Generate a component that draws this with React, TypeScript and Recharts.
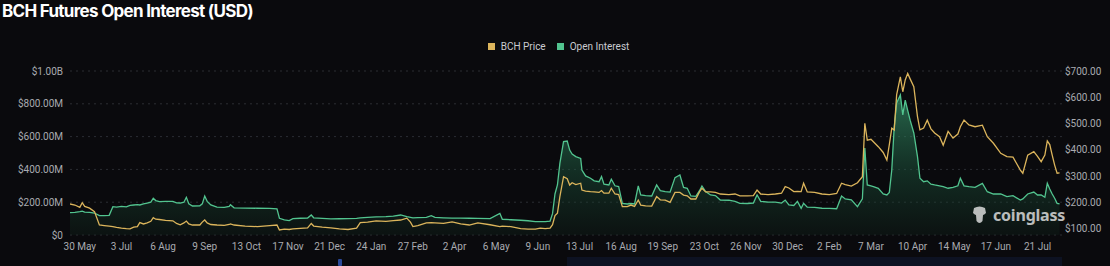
import React from 'react';
import { ComposedChart, Area, Line, XAxis, YAxis, CartesianGrid, Legend } from 'recharts';

// day index, 0 = 30 May
const days = [
  -8, -4, 0, 2, 4, 8, 12, 16, 20, 24, 27, 30, 34, 38, 41, 44, 47, 49, 52, 55, 58, 60, 62, 65, 70, 76, 79, 82, 85, 87,
  89, 92, 98, 100, 102, 104, 107, 112, 118, 122, 123, 126, 135, 145, 155, 161, 163, 167, 171, 174, 180, 186, 189, 191,
  198, 205, 212, 219, 226, 229, 235, 242, 250, 256, 262, 267, 270, 272, 276, 283, 287, 290, 297, 304, 311, 318, 325,
  335, 343, 345, 352, 360, 366, 372, 376, 380, 384, 386, 388, 390, 392, 395, 398, 400, 402, 405, 409, 410, 413, 417,
  420, 424, 426, 428, 432, 434, 437, 440, 443, 447, 450, 453, 456, 458, 462, 467, 471, 474, 478, 482, 486, 490, 493,
  496, 499, 503, 506, 508, 511, 515, 519, 523, 530, 535, 539, 545, 550, 553, 556, 562, 568, 573, 576, 579, 583, 586,
  589, 591, 594, 600, 606, 612, 618, 622, 625, 630, 635, 639, 641, 643, 646, 648, 652, 656, 659, 661, 663, 665, 667,
  670, 672, 674, 676, 678, 681, 684, 686, 689, 692, 695, 698, 702, 705, 709, 713, 717, 719, 722, 726, 731, 737, 741,
  746, 752, 757, 762, 768, 770, 774, 779, 782, 785, 788, 790, 792, 794, 796, 798, 800,
];

// open interest, millions USD
const openInterest = [
  136, 138, 142, 145, 140, 138, 134, 118, 118, 120, 173, 170, 175, 172, 180, 183, 185, 183, 190, 195, 200, 224, 210, 203, 205, 205, 196, 195, 200, 230,
  190, 177, 178, 190, 238, 205, 183, 170, 168, 175, 185, 166, 164, 163, 162, 160, 102, 92, 88, 100, 102, 103, 122, 105,
  101, 98, 99, 100, 101, 104, 108, 110, 112, 115, 122, 112, 108, 104, 106, 108, 118, 108, 105, 103, 103, 102, 101,
  100, 132, 96, 93, 90, 87, 82, 81, 82, 85, 130, 250, 305, 437, 569, 573, 518, 494, 478, 467, 396, 360, 346,
  330, 325, 356, 310, 305, 340, 300, 295, 193, 189, 192, 189, 299, 245, 240, 238, 305, 270, 264, 262, 350, 366, 290,
  285, 238, 236, 270, 299, 265, 244, 240, 213, 212, 205, 193, 192, 195, 244, 205, 201, 200, 195, 213, 183, 180, 205,
  163, 193, 170, 168, 163, 162, 160, 238, 220, 215, 173, 220, 530, 305, 300, 295, 285, 250, 244, 260, 396, 660, 805,
  854, 732, 823, 760, 700, 622, 478, 346, 325, 330, 310, 305, 300, 295, 285, 290, 300, 346, 300, 295, 290, 315, 264,
  250, 250, 234, 240, 213, 220, 250, 262, 244, 244, 230, 315, 280, 250, 224, 193, 190,
];

// BCH price, USD
const bchPrice = [
  194, 190, 181, 199, 185, 178, 165, 114, 112, 110, 108, 105, 102, 100, 99, 106, 108, 123, 118, 122, 128, 142, 136, 135, 132, 130, 120, 115, 122, 129,
  118, 114, 114, 125, 133, 122, 116, 114, 113, 116, 118, 114, 110, 108, 112, 114, 95, 98, 97, 99, 101, 103, 120, 110,
  106, 103, 99, 97, 102, 123, 125, 130, 128, 131, 133, 140, 125, 108, 112, 122, 123, 122, 120, 126, 118, 114, 122,
  115, 108, 110, 108, 100, 98, 98, 102, 100, 102, 115, 150, 159, 222, 298, 290, 266, 275, 268, 273, 247, 243, 241,
  240, 238, 245, 235, 235, 254, 232, 230, 184, 184, 190, 185, 209, 190, 187, 186, 222, 210, 209, 200, 238, 238, 228,
  225, 213, 213, 240, 254, 240, 240, 238, 232, 230, 232, 225, 225, 226, 247, 232, 230, 232, 235, 260, 255, 241, 242,
  241, 273, 240, 238, 232, 230, 234, 273, 268, 262, 275, 298, 501, 437, 440, 431, 412, 390, 361, 420, 482, 475, 610,
  678, 621, 666, 691, 670, 640, 526, 476, 483, 513, 480, 464, 450, 418, 470, 445, 460, 488, 513, 495, 488, 494, 450,
  425, 387, 374, 372, 323, 311, 380, 393, 375, 355, 380, 434, 420, 380, 342, 311, 312,
];

const tickDays = [0, 34, 68, 102, 136, 170, 204, 238, 272, 306, 340, 374, 408, 442, 476, 510, 544, 578, 612, 646, 680, 714, 748, 782];
const tickLabels = [
  '30 May', '3 Jul', '6 Aug', '9 Sep', '13 Oct', '17 Nov', '21 Dec', '24 Jan', '27 Feb', '2 Apr', '6 May', '9 Jun',
  '13 Jul', '16 Aug', '19 Sep', '23 Oct', '26 Nov', '30 Dec', '2 Feb', '7 Mar', '10 Apr', '14 May', '17 Jun', '21 Jul',
];

const oiTicks = [0, 200, 400, 600, 800, 1000];
const oiTickLabels = ['$0', '$200.00M', '$400.00M', '$600.00M', '$800.00M', '$1.00B'];
const priceTicks = [100, 200, 300, 400, 500, 600, 700];

const data = days.map((d, i) => ({ day: d, oi: openInterest[i], price: bchPrice[i] }));

const BG = '#0a0a0d';
const FONT = 'Roboto, "Noto Sans", sans-serif';
const axisTick = { fill: '#a9abb0', fontSize: 10, fontFamily: FONT };

const LegendBox = (props: any) => {
  const items = props.payload || [];
  return (
    <div style={{ display: 'flex', justifyContent: 'center', paddingLeft: 18, fontFamily: FONT, fontSize: 10, color: '#c9cbd0' }}>
      {items.map((it: any) => (
        <div key={it.value} style={{ display: 'flex', alignItems: 'center', marginRight: 11 }}>
          <span style={{ width: 7, height: 7, background: it.color, display: 'inline-block', marginRight: 6 }} />
          <span>{it.value}</span>
        </div>
      ))}
    </div>
  );
};

export default function App() {
  return (
    <div style={{ position: 'relative', width: 1110, height: 266, background: BG, overflow: 'hidden' }}>
      <style>{`body{margin:0;background:${BG}}`}</style>
      <div
        style={{
          position: 'absolute', left: 2, top: 1, color: '#fff', fontFamily: 'Inter, sans-serif',
          fontWeight: 700, fontSize: 17, letterSpacing: -0.7,
        }}
      >
        BCH Futures Open Interest (USD)
      </div>
      <ComposedChart width={1110} height={266} data={data} margin={{ top: 71, right: 0, bottom: 1, left: 0 }}>
        <defs>
          <linearGradient id="oiFill" x1="0" y1="0" x2="0" y2="1">
            <stop offset="0%" stopColor="#3fb27f" stopOpacity={0.95} />
            <stop offset="55%" stopColor="#1f5f43" stopOpacity={0.7} />
            <stop offset="100%" stopColor="#0f2119" stopOpacity={0.6} />
          </linearGradient>
        </defs>
        <CartesianGrid yAxisId="oi" vertical={false} stroke="#2b2d33" strokeDasharray="2 4" />
        <XAxis
          dataKey="day"
          type="number"
          domain={[-8, 802]}
          ticks={tickDays}
          tickFormatter={(v: number) => tickLabels[tickDays.indexOf(v)] ?? ''}
          tick={axisTick}
          axisLine={false}
          tickLine={false}
          tickSize={6}
          tickMargin={2}
          height={30}
          allowDataOverflow
        />
        <YAxis
          yAxisId="oi"
          orientation="left"
          domain={[0, 1000]}
          ticks={oiTicks}
          tickFormatter={(v: number) => oiTickLabels[oiTicks.indexOf(v)] ?? ''}
          tick={axisTick}
          axisLine={false}
          tickLine={false}
          tickSize={0}
          tickMargin={7}
          width={70}
        />
        <YAxis
          yAxisId="price"
          orientation="right"
          domain={[76, 700]}
          ticks={priceTicks}
          tickFormatter={(v: number) => `$${v.toFixed(2)}`}
          tick={{ ...axisTick, textAnchor: 'start' }}
          axisLine={false}
          tickLine={false}
          tickSize={0}
          tickMargin={3}
          width={48}
          allowDataOverflow
        />
        <Legend
          verticalAlign="middle"
          align="center"
          content={<LegendBox />}
          wrapperStyle={{ top: 41, left: 0, width: 1110 }}
        />
        <Area
          yAxisId="oi"
          type="linear"
          dataKey="oi"
          name="Open Interest"
          stroke="#52c48f"
          strokeWidth={1.3}
          fill="url(#oiFill)"
          legendType="square"
          isAnimationActive={false}
          dot={false}
          activeDot={false}
        />
        <Line
          yAxisId="price"
          type="linear"
          dataKey="price"
          name="BCH Price"
          stroke="#dcb55c"
          strokeWidth={1.3}
          legendType="square"
          isAnimationActive={false}
          dot={false}
          activeDot={false}
        />
      </ComposedChart>
      <div style={{ position: 'absolute', left: 972, top: 204, display: 'flex', alignItems: 'center', opacity: 0.8 }}>
        <svg width={15} height={19} viewBox="0 0 15 19">
          <path d="M2 2 Q7.5 -1 13 2 L14 7 Q12 9 11 9 L10.5 15 Q7.5 19 4.5 15 L4 9 Q3 9 1 7 Z" fill="#e6e6e6" />
        </svg>
        <span style={{ marginLeft: 6, color: '#e6e6e6', fontFamily: '"Noto Sans", sans-serif', fontWeight: 700, fontSize: 16, letterSpacing: -0.2 }}>
          coinglass
        </span>
      </div>
      <div style={{ position: 'absolute', left: 567, top: 257, width: 495, height: 9, background: '#0d1222' }} />
      <div style={{ position: 'absolute', left: 338, top: 259, width: 4, height: 7, background: '#2c4a9a', borderRadius: 1 }} />
    </div>
  );
}
